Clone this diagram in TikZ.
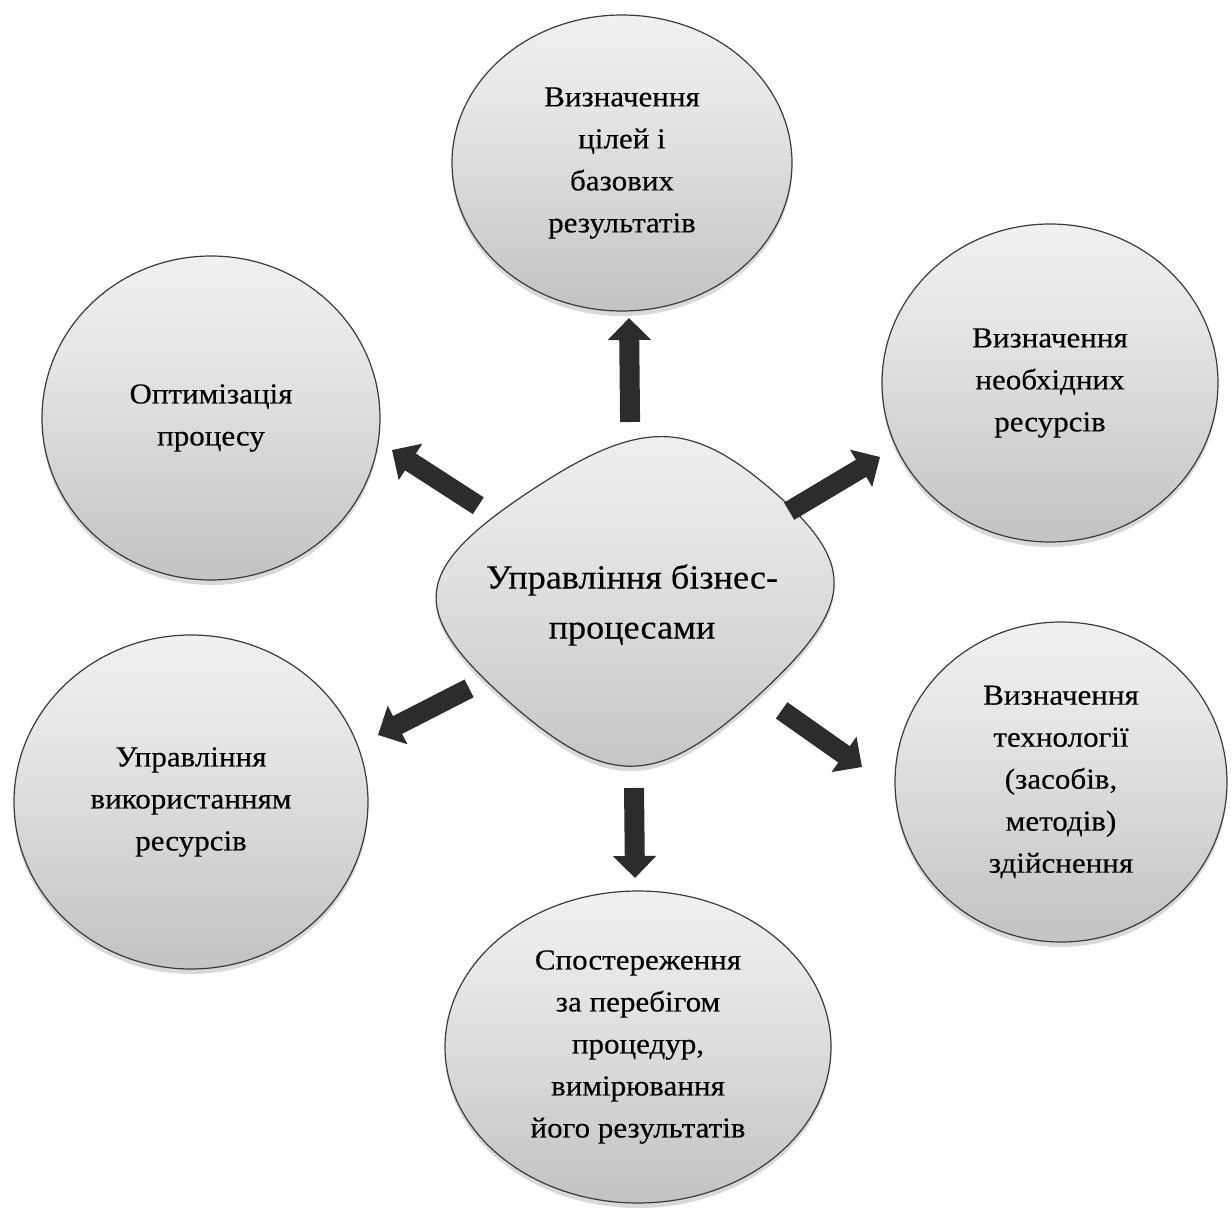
\documentclass[tikz,border=0pt]{standalone}
\usepackage{fontspec}
\setmainfont{Liberation Serif}[FakeStretch=1.07, FakeBold=0.3]
\usetikzlibrary{shapes.geometric,arrows.meta,shadows}
\definecolor{topc}{HTML}{F0F0F0}
\definecolor{upc}{HTML}{E6E6E6}
\definecolor{midc}{HTML}{D6D6D6}
\definecolor{botc}{HTML}{C4C4C4}
\definecolor{edgec}{HTML}{3A3A3A}
\definecolor{arrc}{HTML}{2C2C2C}
\pgfdeclareverticalshading{ballgrad}{100bp}{color(0bp)=(botc); color(27bp)=(botc); color(44bp)=(midc); color(60bp)=(upc); color(75bp)=(topc); color(100bp)=(topc)}
\begin{document}
\begin{tikzpicture}[x=0.5pt,y=-0.5pt,
  ball/.style={ellipse, draw=edgec, line width=0.6pt, shading=ballgrad,
    align=center, inner sep=0pt, font=\fontsize{14.5}{21}\selectfont,
    drop shadow={shadow xshift=0pt, shadow yshift=-2.5pt, opacity=0.15, fill=black}},
  hub/.style={circle, minimum size=183pt, inner sep=0pt, outer sep=0pt,
    align=center, font=\fontsize{16.9}{25}\selectfont},
  bigarrow/.style={draw=arrc, line width=10pt, -{Triangle[width=21pt,length=11pt]}}]
\useasboundingbox (0,0) rectangle (1232,1214);
% central rounded diamond
\path[shading=ballgrad, draw=edgec, line width=0.6pt,
  drop shadow={shadow xshift=0pt, shadow yshift=-2.5pt, opacity=0.15, fill=black}]
  (525,494.5) .. controls (638.6,418.1) and (688.3,417.5) .. (773.5,491.5)
  .. controls (858.7,565.5) and (855.2,606.7) .. (756,697.5)
  .. controls (656.8,788.3) and (607.1,788.9) .. (507.5,700.5)
  .. controls (407.9,612.1) and (411.4,570.9) .. (525,494.5) -- cycle;
\node[hub] (c) at (632,605) {Управління бізнес-\\процесами};
% outer ellipses
\node[ball, minimum width=170pt, minimum height=148pt] (t) at (622,163)
  {Визначення\\цілей і\\базових\\результатів};
\node[ball, minimum width=169pt, minimum height=162pt] (ul) at (211,418)
  {Оптимізація\\процесу};
\node[ball, minimum width=168pt, minimum height=159pt] (ur) at (1050,383)
  {Визначення\\необхідних\\ресурсів};
\node[ball, minimum width=166pt, minimum height=160pt] (lr) at (1061,782)
  {Визначення\\технології\\(засобів,\\методів)\\здійснення};
\node[ball, minimum width=177pt, minimum height=167pt] (ll) at (191,802)
  {Управління\\використанням\\ресурсів};
\node[ball, minimum width=193pt, minimum height=156pt] (b) at (638,1047)
  {Спостереження\\за перебігом\\процедур,\\вимірювання\\його результатів};
% arrow tips
\coordinate (toT) at (629,318);
\coordinate (toUL) at (392,450);
\coordinate (toUR) at (880,457);
\coordinate (toLR) at (862,767);
\coordinate (toB) at (635,878);
\coordinate (toLL) at (378,735);
\draw[bigarrow] (c) -- (toT);
\draw[bigarrow] (c) -- (toUL);
\draw[bigarrow] (c) -- (toUR);
\draw[bigarrow] (c) -- (toLR);
\draw[bigarrow] (c) -- (toB);
\draw[bigarrow] (c) -- (toLL);
\end{tikzpicture}
\end{document}
